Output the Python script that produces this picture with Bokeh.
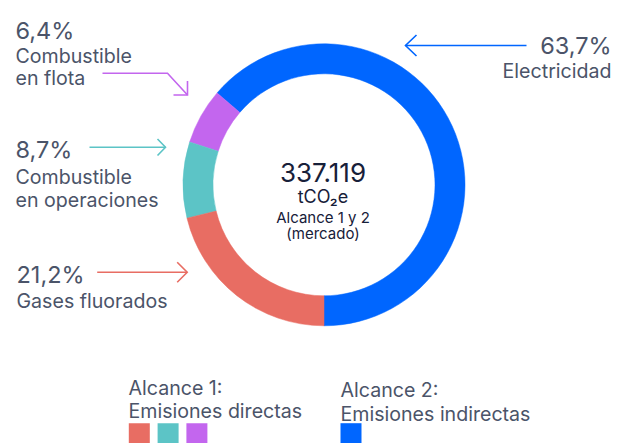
import numpy as np
from bokeh.plotting import figure
from bokeh.models import Range1d, ColumnDataSource
from bokeh.core.properties import value
from bokeh.embed import file_html
from bokeh.resources import INLINE

# ---- data ----
categories = ["Electricidad", "Combustible en flota", "Combustible en operaciones", "Gases fluorados"]
shares = [63.7, 6.4, 8.7, 21.2]
pct_labels = ["63,7%", "6,4%", "8,7%", "21,2%"]
name_lines = [["Electricidad"], ["Combustible", "en flota"], ["Combustible", "en operaciones"], ["Gases fluorados"]]
colors = ["#0066FF", "#C366EE", "#5CC4C6", "#E86D63"]
scope = [2, 1, 1, 1]
total_label = "337.119"
unit_label = "tCO\u2082e"
center_lines = ["Alcance 1 y 2", "(mercado)"]
legend_titles = [["Alcance 1:", "Emisiones directas"], ["Alcance 2:", "Emisiones indirectas"]]

W, H = 624, 443
TXT = "#4B5469"
DARK = "#172039"
FONT = "Inter"
LBL = 19.6

def X(px):
    return px

def Y(py):
    return H - py

p = figure(width=W, height=H, output_backend="svg", toolbar_location=None,
           x_range=Range1d(0, W), y_range=Range1d(0, H),
           x_axis_type=None, y_axis_type=None, min_border=0)
p.outline_line_color = None
p.grid.visible = False
p.background_fill_color = "white"
p.border_fill_color = "white"

# ---- donut ----
cx, cy = X(323.5), Y(184.3)
fr = np.array(shares) / sum(shares)
ends = -np.pi / 2 + 2 * np.pi * np.cumsum(fr)
starts = np.concatenate([[-np.pi / 2], ends[:-1]])
src = ColumnDataSource(dict(start=starts, end=ends, color=colors, cat=categories))
p.annular_wedge(x=cx, y=cy, inner_radius=111, outer_radius=141,
                start_angle="start", end_angle="end", direction="anticlock",
                fill_color="color", line_color="color", line_width=0.5, source=src)

def txt(x, y, s, size, color=TXT, align="left"):
    p.text(x=[X(x)], y=[Y(y)], text=[s], text_font=value(FONT),
           text_font_size=value(f"{size}px"), text_color=color,
           text_align=align, text_baseline="alphabetic")

# ---- labels ----
txt(611, 45, pct_labels[0], 23.5, align="right")
txt(611, 70.7, name_lines[0][0], LBL, align="right")
txt(15, 29.5, pct_labels[1], 23.5)
txt(15, 55, name_lines[1][0], LBL)
txt(15, 77.5, name_lines[1][1], LBL)
txt(15, 149.3, pct_labels[2], 23.5)
txt(15, 176, name_lines[2][0], LBL)
txt(15, 199, name_lines[2][1], LBL)
txt(16, 274, pct_labels[3], 23.5)
txt(16, 300, name_lines[3][0], LBL)

# ---- arrows ----
def poly(pts, color):
    p.line(x=[X(a) for a, b in pts], y=[Y(b) for a, b in pts], line_color=color,
           line_width=1.6, line_join="miter")

poly([(526, 45), (405, 45)], colors[0])
poly([(416, 34.5), (405, 45), (416, 55.5)], colors[0])

poly([(102, 72.7), (167, 72.7), (187, 94.5)], colors[1])
poly([(173, 94.5), (187, 94.5), (187, 80.5)], colors[1])

poly([(89, 146.7), (165, 146.7)], colors[2])
poly([(157, 138.5), (165, 146.7), (157, 155)], colors[2])

poly([(96.7, 271.7), (186.7, 271.7)], colors[3])
poly([(176.7, 261.7), (186.7, 271.7), (176.7, 281.7)], colors[3])

# ---- center text ----
txt(322.5, 172, total_label, 26, color=DARK, align="center")
txt(322.5, 196, unit_label, 18, color=DARK, align="center")
txt(322.5, 217, center_lines[0], 15, color=DARK, align="center")
txt(322.5, 233, center_lines[1], 15, color=DARK, align="center")

# ---- legend ----
txt(128, 387.3, legend_titles[0][0], LBL)
txt(128, 410.7, legend_titles[0][1], LBL)
txt(340, 389, legend_titles[1][0], LBL)
txt(340, 413, legend_titles[1][1], LBL)

sq = 21
gap = 7.8
s1 = [i for i in [3, 2, 1] if scope[i] == 1]
s2 = [i for i in range(len(scope)) if scope[i] == 2]
lefts, cols = [], []
for k, i in enumerate(s1):
    lefts.append(128.3 + k * (sq + gap)); cols.append(colors[i])
for k, i in enumerate(s2):
    lefts.append(340 + k * (sq + gap)); cols.append(colors[i])
p.quad(left=[X(l) for l in lefts], right=[X(l + sq) for l in lefts],
       top=[Y(422.7)] * len(lefts), bottom=[Y(422.7 + sq)] * len(lefts),
       fill_color=cols, line_color=None)

open("out.html", "w").write(file_html(p, INLINE))
